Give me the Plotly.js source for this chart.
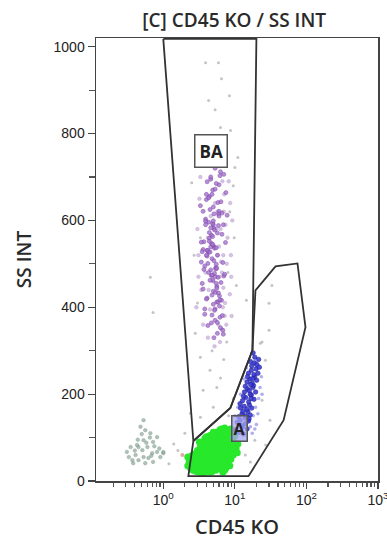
<!DOCTYPE html>
<html><head><meta charset="utf-8">
<script src="https://cdn.plot.ly/plotly-3.0.1.min.js"></script>
<style>body{margin:0;background:#fff}#chart{width:387px;height:540px}</style>
</head><body><div id="chart"></div>
<script>
// ---- data (x = CD45 KO, y = SS INT) ----
const purplePts = [[4.8,512],[5.6,448],[3.9,603],[6.2,377],[4.4,655],[5.1,540],[7.0,472],[4.1,421],[5.9,588],[4.6,695],[3.6,533],[5.3,396],[6.6,617],[4.9,462],[4.2,358],[5.7,571],[3.4,504],[6.0,682],[5.0,437],[4.5,625],[7.4,549],[3.8,384],[5.4,491],[6.3,712],[4.7,566],[4.0,419],[5.8,641],[5.2,478],[3.5,528],[6.8,347],[4.3,596],[5.5,455],[4.9,670],[6.1,403],[3.7,551],[5.0,729],[4.6,486],[7.8,612],[5.3,370],[4.1,531],[6.4,457],[4.8,660],[3.9,598],[5.6,412],[5.1,507],[4.4,572],[6.9,338],[3.3,634],[5.8,469],[4.7,547],[5.2,393],[6.0,621],[4.2,501],[5.5,685],[3.6,442],[4.9,563],[6.5,416],[5.0,590],[4.3,527],[5.7,365],[7.2,476],[4.0,648],[5.4,434],[4.6,539],[6.2,703],[3.8,495],[5.1,582],[4.8,428],[5.9,615],[4.5,462],[3.4,550],[6.7,381],[5.3,672],[4.1,518],[5.6,444],[4.9,593],[6.3,353],[3.7,487],[5.0,631],[4.4,559],[5.8,412],[7.0,706],[4.7,473],[5.2,536],[3.9,590],[6.1,426],[4.3,652],[5.5,499],[4.8,382],[6.6,568],[4.0,520],[5.1,615],[3.5,455],[5.7,340],[4.6,583],[6.4,643],[5.0,407],[4.2,531],[5.4,488],[7.5,664],[4.9,545],[3.8,396],[6.0,610],[5.3,470],[4.5,527],[5.9,433],[4.1,689],[6.8,503],[5.2,578],[4.7,364],[3.6,621],[5.6,490],[4.4,552],[6.2,417],[5.0,599],[4.8,474],[5.5,537],[4.0,660],[6.9,590],[5.1,330],[4.6,700],[5.3,720],[4.3,480],[5.7,520]];
const purplePale = [[8.8,520],[9.2,600],[3.1,470],[3.0,580],[8.5,430],[9.0,380],[3.2,650],[8.2,690],[2.9,400],[7.6,360],[8.9,470],[3.3,700],[7.9,560],[3.1,520],[8.6,640],[6.5,740],[4.0,735],[5.5,760],[7.0,620],[7.3,410],[6.9,520],[7.1,660],[3.6,360],[4.2,330],[6.2,320],[5.2,310],[7.7,500],[3.4,440],[6.6,480],[7.4,590],[6.0,540],[5.5,580],[6.4,505],[6.9,445],[7.2,380],[4.6,610],[5.8,520],[6.1,470],[5.3,640],[4.5,395],[5.9,360],[6.7,690],[3.9,480],[4.3,440],[6.3,580],[5.0,460],[5.7,620],[6.8,400],[4.2,560],[6.5,350]];
const bluePts = [[10.2,118],[11.5,112],[12.8,125],[14.0,132],[10.8,135],[13.2,108],[11.9,140],[14.8,120],[12.3,128],[15.5,138],[11.3,148],[12.6,155],[13.9,145],[15.2,160],[16.4,152],[12.0,168],[13.5,172],[14.7,165],[16.0,175],[11.8,178],[13.0,160],[15.8,143],[17.2,168],[14.3,150],[12.8,185],[14.2,192],[15.6,182],[17.0,198],[18.5,188],[13.6,205],[15.0,212],[16.4,200],[17.8,215],[19.5,205],[14.0,218],[16.8,190],[18.2,220],[13.2,195],[15.9,208],[14.8,228],[16.2,235],[17.5,225],[18.9,240],[20.2,232],[15.5,248],[17.0,255],[18.4,245],[19.8,258],[16.6,222],[21.0,248],[15.0,240],[17.9,236],[17.2,265],[18.8,272],[20.3,268],[19.0,285],[21.5,280],[18.0,295],[22.0,262],[16.5,275]];
const blueHaze = [[9.0,100],[16.5,125],[18.0,150],[19.5,170],[21.5,190],[22.5,215],[11.0,170],[12.0,200],[13.5,235],[10.0,150],[20.0,130],[23.5,240],[17.5,110],[24.0,200],[14.5,260],[19.0,120],[21.0,155]];
const greenPts = [[2.4,30],[2.5,42],[2.6,25],[2.7,50],[2.8,35],[2.5,58],[2.9,22],[2.7,62],[2.4,48],[3.0,28],[3.1,45],[3.2,60],[3.3,35],[3.4,52],[3.0,70],[3.5,25],[3.2,20],[3.4,68],[3.1,38],[3.3,78],[3.5,44],[3.6,30],[3.7,55],[3.8,40],[3.9,68],[4.0,26],[4.1,48],[4.2,80],[3.7,85],[3.9,35],[4.0,60],[4.2,22],[3.6,72],[3.8,50],[4.1,92],[4.0,42],[3.7,18],[4.3,35],[4.4,60],[4.5,48],[4.6,75],[4.7,28],[4.8,55],[4.9,88],[5.0,40],[4.4,95],[4.6,20],[4.8,68],[4.5,82],[4.3,50],[4.9,32],[5.0,65],[4.7,100],[4.4,42],[4.6,58],[4.8,22],[5.0,78],[4.5,30],[4.7,45],[5.1,55],[5.2,30],[5.3,80],[5.4,45],[5.5,95],[5.6,62],[5.7,38],[5.8,105],[5.9,70],[6.0,48],[5.2,72],[5.4,25],[5.6,88],[5.8,55],[5.3,102],[5.5,40],[5.7,75],[5.9,90],[6.0,30],[5.1,88],[5.4,62],[5.6,50],[5.8,35],[5.2,48],[5.5,68],[5.9,58],[6.0,82],[5.3,60],[6.1,65],[6.2,40],[6.4,90],[6.5,55],[6.6,110],[6.8,72],[7.0,45],[7.1,95],[6.3,78],[6.7,35],[6.9,85],[7.2,62],[6.2,100],[6.5,28],[6.8,50],[7.0,115],[6.4,68],[6.6,82],[7.1,75],[6.3,52],[6.9,98],[6.1,88],[7.3,80],[7.5,60],[7.7,100],[7.9,72],[8.1,118],[8.3,88],[7.4,45],[7.6,92],[7.8,110],[8.0,65],[8.2,82],[8.5,100],[7.5,75],[7.9,55],[8.4,70],[8.7,95],[9.0,80],[9.3,110],[9.6,90],[10.0,105],[8.8,120],[9.2,70],[9.8,82],[10.4,75],[9.5,100],[4.5,105],[5.5,112],[6.2,118],[7.2,122],[3.8,98],[6.8,20],[7.5,30],[8.0,40],[8.8,50],[9.5,60],[2.2,35],[2.2,55],[2.3,45],[7.2,25],[8.5,35],[3.2,90],[4.0,102],[5.0,112],[6.5,120],[10.8,65],[11.0,85]];
const tealPts = [[0.56,117],[0.66,110],[0.53,94],[0.72,90],[0.43,83],[0.60,78],[0.51,71],[0.82,67],[0.70,64],[1.0,64],[0.41,60],[0.53,55],[0.62,53],[0.45,48],[0.38,41],[0.56,41],[0.72,44],[0.91,55],[0.35,78],[0.31,67],[0.53,140],[0.45,78],[0.37,48],[0.82,101],[1.0,67],[0.48,125],[0.65,100],[0.40,70],[0.58,88],[0.33,55],[0.75,80],[0.50,108],[0.68,58],[0.88,75],[0.44,95]];
const grayPts = [[3.9,963],[5.9,963],[6.5,926],[8.4,887],[4.3,876],[5.3,855],[6.3,814],[8.7,807],[11,745],[10,722],[2.5,687],[8.5,620],[3.3,560],[8.0,480],[3.0,410],[2.8,340],[7.7,320],[3.3,285],[4.5,255],[6.3,237],[3.6,209],[5.0,170],[3.3,147],[2.4,156],[14.5,416],[0.66,469],[0.72,388],[33,450],[30,409],[30,347],[24,320],[22.7,317],[26.7,278],[24,186],[31,140],[19,94],[27,83],[14,60],[16.5,44],[1.6,70],[1.4,85],[2.0,110],[8.2,150],[9.5,190],[1.2,40],[9.8,560],[10.5,450],[2.7,520],[9.5,680],[4.8,300],[7.0,280],[5.6,215]];
const pinkPts = [[1.85,60]];
// gate polygons
const gateBA_x = [1.0, 20, 17.6, 8.65, 2.63, 1.0];
const gateBA_y = [1018, 1018, 301, 168, 92, 1018];
const gateA_x = [2.63, 8.65, 17.6, 19.4, 37, 75, 97, 48, 15.5, 2.24, 2.63];
const gateA_y = [92, 168, 301, 439, 494, 501, 354, 140, 11, 11, 92];
// gate labels
const labelText = ['BA', 'A'];
const labelX = [4.6, 11.7];
const labelY = [759, 121];
// axis ticks
const xTickVals = [1, 10, 100, 1000];
const xTickText = ['10<sup>0</sup>', '10<sup>1</sup>', '10<sup>2</sup>', '10<sup>3</sup>'];
const xMinor = [0.2,0.3,0.4,0.5,0.6,0.7,0.8,0.9,2,3,4,5,6,7,8,9,20,30,40,50,60,70,80,90,200,300,400,500,600,700,800,900];
const yTickVals = [0, 200, 400, 600, 800, 1000];
const yMinor = [100, 300, 500, 700, 900];

const xs = p => p.map(d => d[0]);
const ys = p => p.map(d => d[1]);
const pts = (p, color, size, op, line) => ({
  type: 'scatter', mode: 'markers', x: xs(p), y: ys(p), hoverinfo: 'skip',
  marker: {color: color, size: size, opacity: op, line: line || {width: 0}}
});
const data = [
  pts(grayPts, '#b5b5b5', 3, 0.8),
  pts(pinkPts, '#e29aa0', 4, 0.9),
  pts(tealPts, '#8fa99b', 3.5, 0.7, {width: 0.6, color: '#6b8a7b'}),
  pts(purplePale, '#c9a9df', 3.5, 0.7, {width: 0.6, color: '#a78ab8'}),
  pts(purplePts, '#a673d0', 4, 0.8, {width: 0.7, color: '#7a44a6'}),
  pts(greenPts, '#27e82a', 7, 1),
  pts(blueHaze, '#9a9ae8', 3.5, 0.8),
  pts(bluePts, '#3b3bd8', 4.5, 0.9, {width: 0.6, color: '#1a1a90'}),
  {type: 'scatter', mode: 'lines', x: gateBA_x, y: gateBA_y, line: {color: '#333', width: 1.8}, hoverinfo: 'skip'},
  {type: 'scatter', mode: 'lines', x: gateA_x, y: gateA_y, line: {color: '#333', width: 1.8}, hoverinfo: 'skip'}
];
const annotations = labelText.map((t, i) => ({
  x: Math.log10(labelX[i]), y: labelY[i], xref: 'x', yref: 'y', text: t, showarrow: false,
  font: {family: 'Open Sans, sans-serif', size: i === 0 ? 17 : 16, color: '#222', weight: 700},
  bordercolor: '#555', borderwidth: 1.5, borderpad: i === 0 ? 4 : 1,
  bgcolor: i === 1 ? 'rgba(165,165,240,0.75)' : '#ffffff'
}));
const layout = {
  width: 387, height: 540,
  margin: {l: 96, r: 9, t: 38, b: 59},
  paper_bgcolor: '#fff', plot_bgcolor: '#fff',
  showlegend: false,
  title: {text: '[C] CD45 KO / SS INT', xref: 'paper', x: 0.49, xanchor: 'center', yref: 'container', y: 0.962, yanchor: 'middle',
    font: {family: 'Open Sans, sans-serif', size: 19, color: '#2a2a2a', weight: 600}},
  xaxis: {
    type: 'log', range: [-0.94, 3.0],
    tickmode: 'array', tickvals: xTickVals, ticktext: xTickText, ticklabeloverflow: 'allow',
    ticks: 'outside', ticklen: 6, tickwidth: 1.2, tickcolor: '#444',
    minor: {tickmode: 'array', tickvals: xMinor, ticks: 'outside', ticklen: 4, tickcolor: '#555', showgrid: false},
    showgrid: false, zeroline: false, showline: true, mirror: true, linecolor: '#444', linewidth: 1.5,
    tickfont: {family: 'Liberation Sans, Arial, sans-serif', size: 14, color: '#222'},
    title: {text: 'CD45 KO', standoff: 12, font: {family: 'Open Sans, sans-serif', size: 20, color: '#2a2a2a', weight: 600}}
  },
  yaxis: {
    range: [0, 1020],
    tickmode: 'array', tickvals: yTickVals,
    ticks: 'outside', ticklen: 7, tickwidth: 1.2, tickcolor: '#444',
    minor: {tickmode: 'array', tickvals: yMinor, ticks: 'outside', ticklen: 6, tickcolor: '#555', showgrid: false},
    showgrid: false, zeroline: false, showline: true, mirror: true, linecolor: '#444', linewidth: 1.5,
    tickfont: {family: 'Liberation Sans, Arial, sans-serif', size: 14, color: '#222'},
    title: {text: 'SS INT', standoff: 17, font: {family: 'Open Sans, sans-serif', size: 19, color: '#2a2a2a', weight: 600}}
  },
  annotations: annotations
};
Plotly.newPlot('chart', data, layout, {staticPlot: true, displayModeBar: false});
</script></body></html>
